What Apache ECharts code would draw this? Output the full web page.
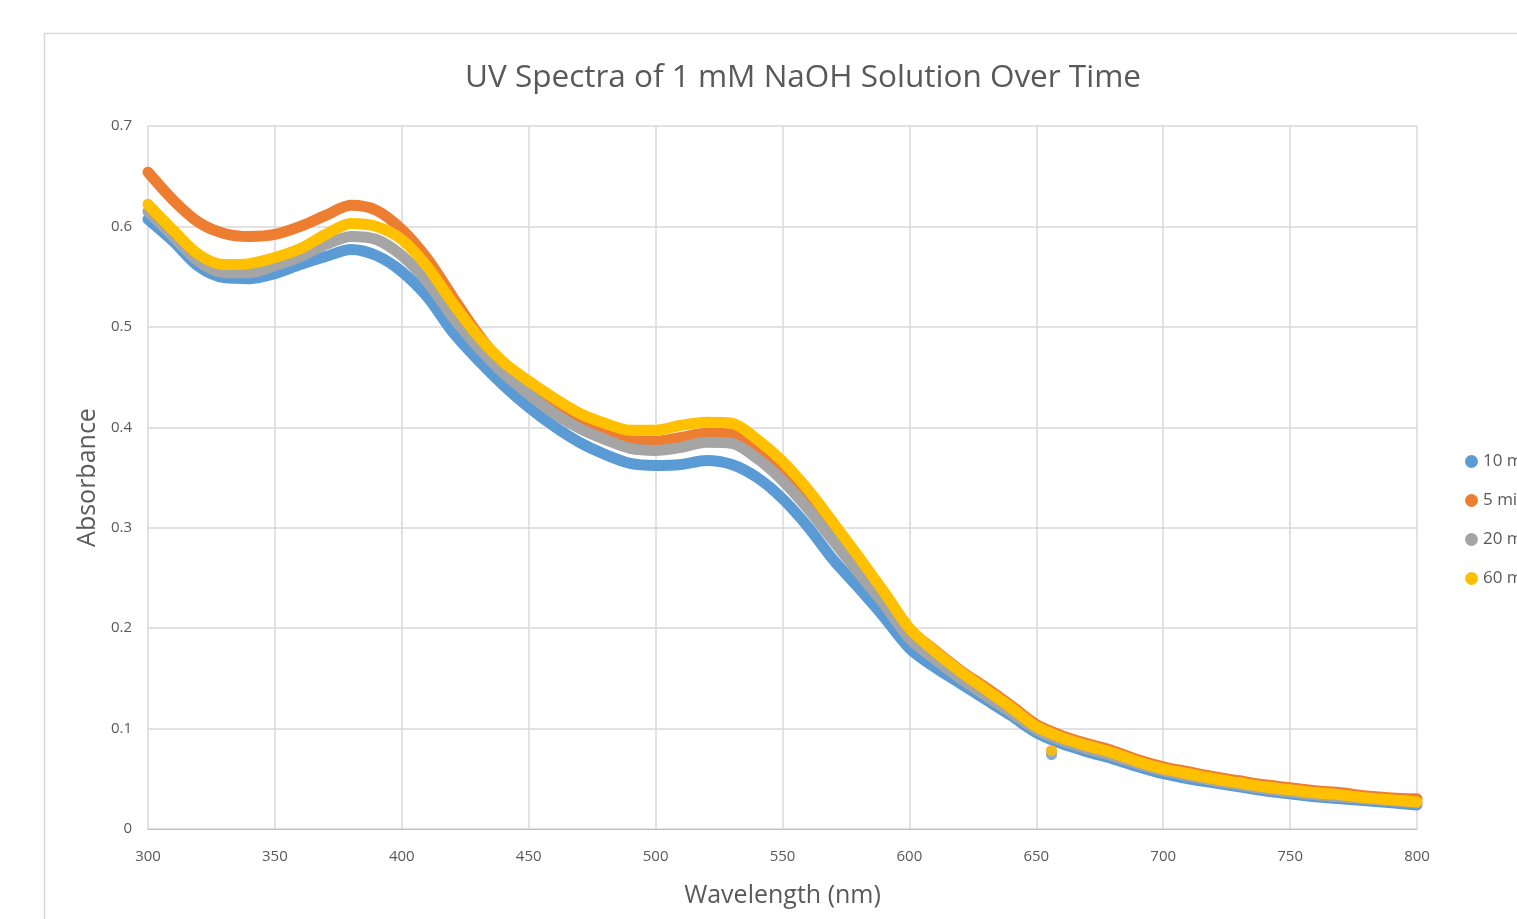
<!DOCTYPE html>
<html>
<head>
<meta charset="utf-8">
<script src="https://cdn.jsdelivr.net/npm/echarts@6/dist/echarts.min.js"></script>
<style>
  html, body { margin: 0; padding: 0; background: #fff; overflow: hidden; }
  #chart { width: 1517px; height: 919px; }
</style>
</head>
<body>
<div id="chart"></div>
<script>
// UV-Vis spectra in 10 nm steps
const wavelengths = [300, 310, 320, 330, 340, 350, 360, 370, 380, 390, 400, 410, 420, 430, 440, 450,
  460, 470, 480, 490, 500, 510, 520, 530, 540, 550, 560, 570, 580, 590, 600, 610, 620, 630, 640, 650,
  660, 670, 680, 690, 700, 710, 720, 730, 740, 750, 760, 770, 780, 790, 800]

const min10 = [0.607, 0.585, 0.560, 0.549, 0.548, 0.553, 0.562, 0.570, 0.577, 0.571, 0.555, 0.530,
  0.495, 0.467, 0.442, 0.420, 0.401, 0.385, 0.373, 0.364, 0.362, 0.363, 0.367, 0.363, 0.350, 0.329,
  0.301, 0.268, 0.240, 0.211, 0.180, 0.161, 0.145, 0.129, 0.113, 0.096, 0.085, 0.077, 0.070,
  0.062, 0.055, 0.050, 0.046, 0.042, 0.038, 0.035, 0.032, 0.030, 0.028, 0.026, 0.024]

const min5 = [0.654, 0.626, 0.604, 0.593, 0.590, 0.592, 0.600, 0.611, 0.621, 0.616, 0.597, 0.568,
  0.530, 0.493, 0.462, 0.440, 0.421, 0.405, 0.394, 0.387, 0.386, 0.390, 0.394, 0.393, 0.380, 0.359,
  0.332, 0.299, 0.266, 0.232, 0.199, 0.178, 0.158, 0.141, 0.123, 0.104, 0.093, 0.085, 0.078,
  0.069, 0.062, 0.057, 0.052, 0.048, 0.044, 0.041, 0.038, 0.036, 0.033, 0.031, 0.030]

const min20 = [0.615, 0.590, 0.565, 0.554, 0.554, 0.561, 0.570, 0.582, 0.590, 0.587, 0.571, 0.545,
  0.510, 0.480, 0.454, 0.433, 0.414, 0.399, 0.388, 0.379, 0.377, 0.380, 0.385, 0.384, 0.369, 0.347,
  0.319, 0.287, 0.255, 0.224, 0.190, 0.169, 0.150, 0.133, 0.116, 0.099, 0.088, 0.080, 0.073,
  0.065, 0.058, 0.053, 0.048, 0.044, 0.040, 0.037, 0.034, 0.032, 0.030, 0.028, 0.026]

const min60 = [0.622, 0.596, 0.572, 0.562, 0.563, 0.569, 0.578, 0.592, 0.603, 0.600, 0.587, 0.560,
  0.524, 0.491, 0.465, 0.446, 0.429, 0.414, 0.404, 0.397, 0.397, 0.402, 0.405, 0.404, 0.388, 0.366,
  0.338, 0.305, 0.271, 0.236, 0.200, 0.177, 0.157, 0.139, 0.121, 0.102, 0.091, 0.083, 0.076,
  0.067, 0.060, 0.055, 0.050, 0.046, 0.042, 0.039, 0.036, 0.034, 0.031, 0.029, 0.027]

// one glitched reading near 656 nm that sits below the band in every run
const glitchWavelength = 656
const glitchValues = [0.074, 0.078, 0.076, 0.078]

const seriesNames = ['10 min', '5 min', '20 min', '60 min']
const seriesData = [min10, min5, min20, min60]
const colors = ['#5B9BD5', '#ED7D31', '#A5A5A5', '#FFC000']

const FONT = '"Open Sans", sans-serif'
const INK = '#595959'

const chart = echarts.init(document.getElementById('chart'), null, { renderer: 'canvas' })

const lines = seriesNames.map((name, i) => ({
  name, type: 'line',
  data: wavelengths.map((w, j) => [w, seriesData[i][j]]),
  smooth: 0.3,
  symbol: 'circle', symbolSize: 11, showSymbol: false,
  lineStyle: { width: 11, color: colors[i], cap: 'round', join: 'round' },
  itemStyle: { color: colors[i] },
  z: 2 + i,
}))

// glitch dots drawn above all bands, yellow last
const glitches = seriesNames.map((name, i) => ({
  name, type: 'scatter',
  data: [[glitchWavelength, glitchValues[i]]],
  symbol: 'circle', symbolSize: 11,
  itemStyle: { color: colors[i] },
  z: 10 + i,
}))

chart.setOption({
  animation: false,
  textStyle: { fontFamily: FONT },
  title: {
    text: 'UV Spectra of 1 mM NaOH Solution Over Time',
    left: 798, top: 57, textAlign: 'center',
    textStyle: { color: INK, fontSize: 31.5, fontWeight: 'normal', fontFamily: FONT },
  },
  graphic: [{
    type: 'rect', silent: true, z: -1,
    shape: { x: 44.5, y: 33.5, width: 1600, height: 1000 },
    style: { fill: 'none', stroke: '#d9d9d9', lineWidth: 1.5 },
  }],
  grid: { left: 148, right: 100, top: 126, bottom: 90, containLabel: false },
  legend: {
    orient: 'vertical', left: 1460, top: 448, itemGap: 22,
    icon: 'circle', itemWidth: 13, itemHeight: 13,
    textStyle: { color: INK, fontSize: 17, fontFamily: FONT },
    data: seriesNames,
  },
  xAxis: {
    type: 'value', min: 300, max: 800, interval: 50,
    name: 'Wavelength (nm)', nameLocation: 'middle', nameGap: 54,
    nameTextStyle: { color: INK, fontSize: 25, fontFamily: FONT },
    axisLine: { show: true, onZero: false, lineStyle: { color: '#bfbfbf', width: 1 } },
    axisTick: { show: false },
    axisLabel: { color: INK, fontSize: 15, margin: 20 },
    splitLine: { show: true, lineStyle: { color: '#d9d9d9', width: 1.5 } },
  },
  yAxis: {
    type: 'value', min: 0, max: 0.7, interval: 0.1,
    name: 'Absorbance', nameLocation: 'middle', nameGap: 47,
    nameTextStyle: { color: INK, fontSize: 25, fontFamily: FONT },
    axisLine: { show: false },
    axisTick: { show: false },
    axisLabel: { color: INK, fontSize: 15, margin: 16 },
    splitLine: { show: true, lineStyle: { color: '#d9d9d9', width: 1.5 } },
  },
  series: lines.concat(glitches),
})
</script>
</body>
</html>
